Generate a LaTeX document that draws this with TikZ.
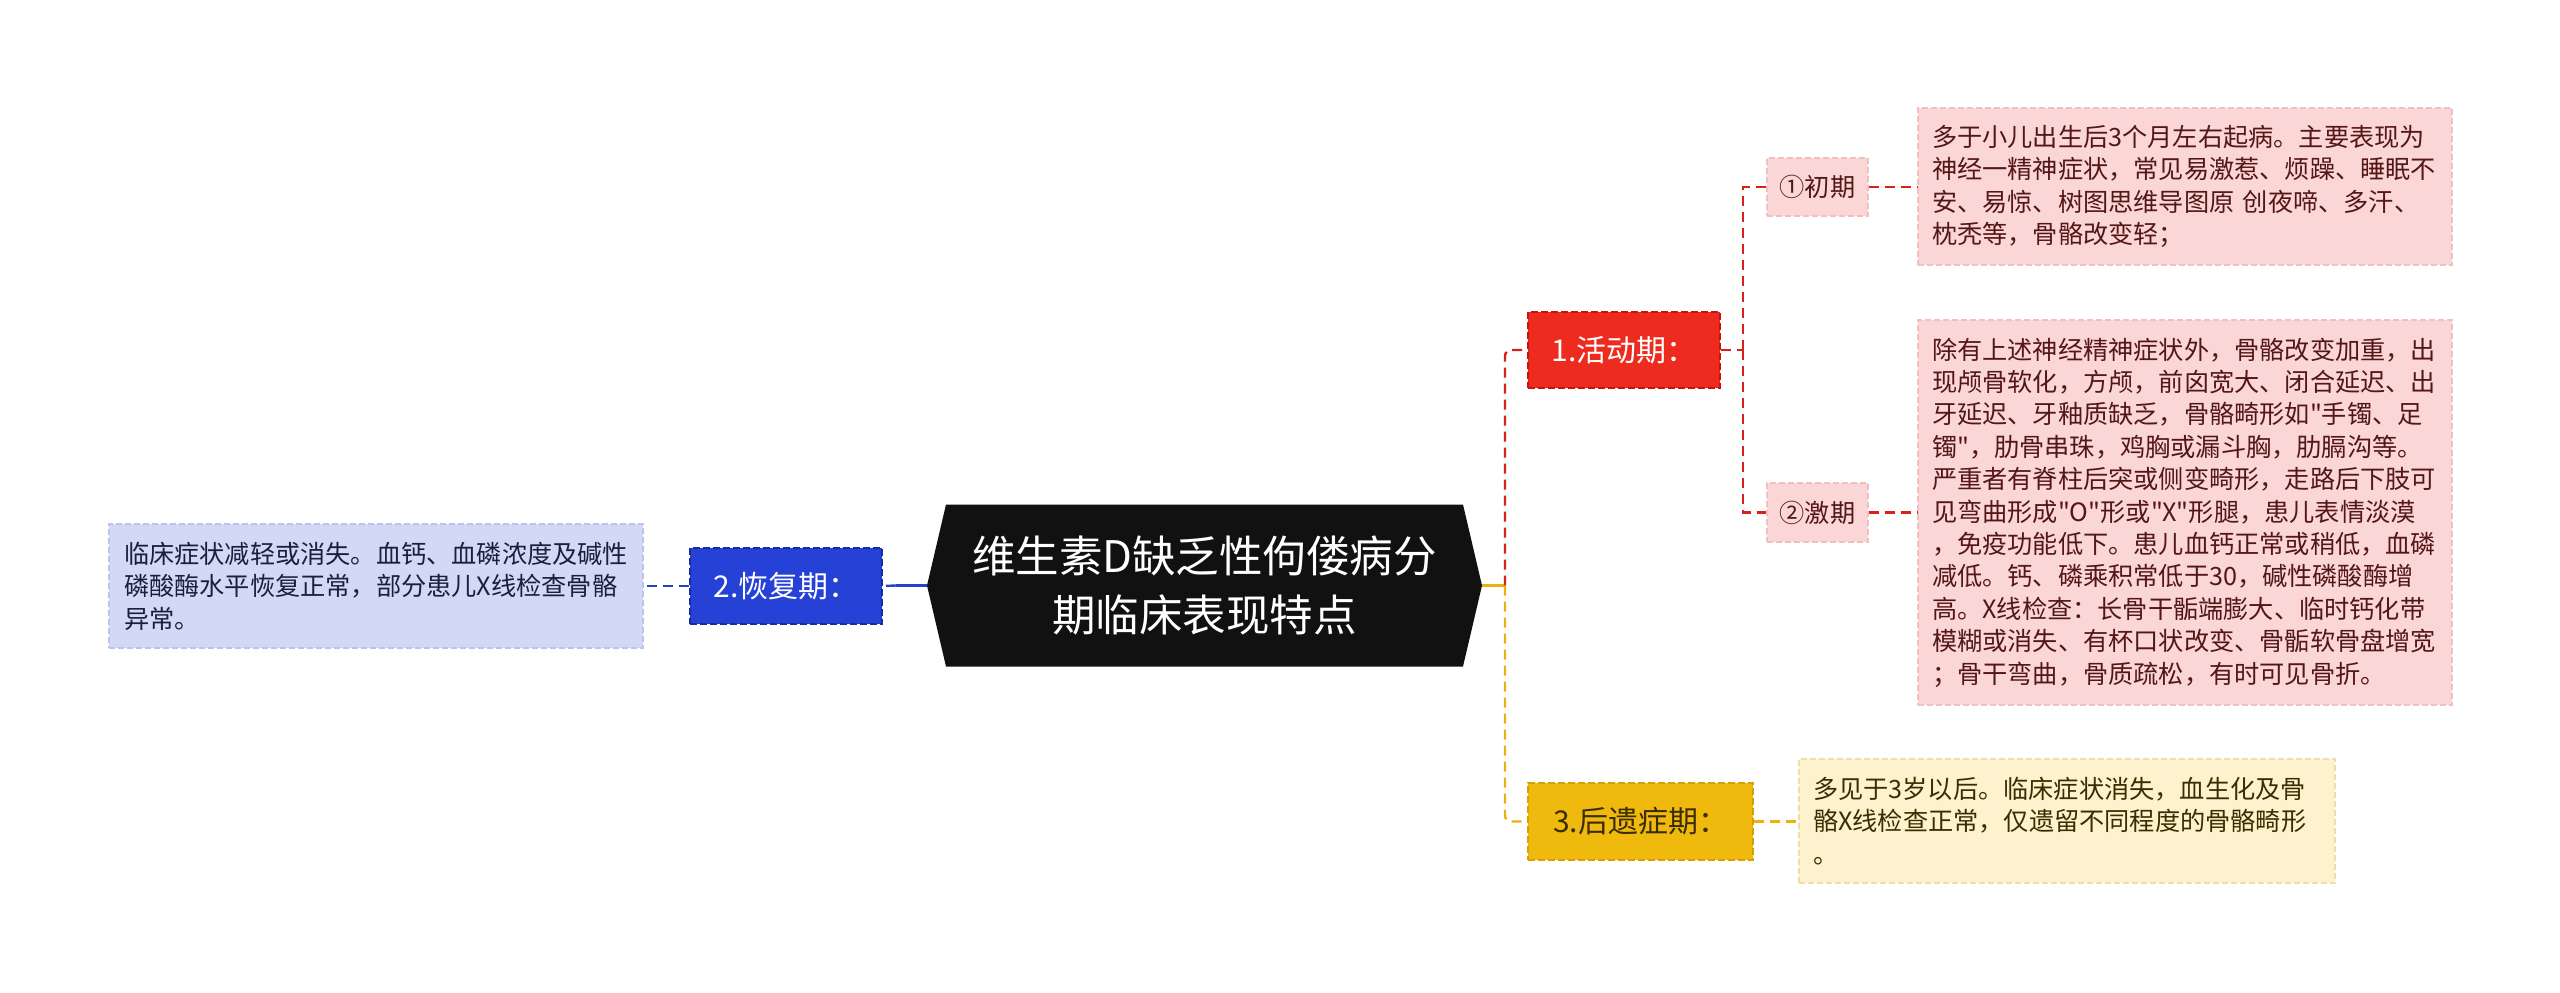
\documentclass[tikz,border=0pt]{standalone}
\usepackage{fontspec}
\newfontfamily\cjk{Noto Sans CJK SC}
\usetikzlibrary{calc}
\definecolor{rootfill}{RGB}{17,17,17}
\definecolor{redfill}{RGB}{237,43,31}
\definecolor{redborder}{RGB}{196,22,14}
\definecolor{redline}{RGB}{214,34,26}
\definecolor{bluefill}{RGB}{38,66,214}
\definecolor{blueborder}{RGB}{24,44,160}
\definecolor{blueline}{RGB}{36,64,210}
\definecolor{goldfill}{RGB}{240,185,14}
\definecolor{goldborder}{RGB}{214,160,0}
\definecolor{goldline}{RGB}{233,178,16}
\definecolor{pinkfill}{RGB}{250,214,214}
\definecolor{pinkborder}{RGB}{238,192,192}
\definecolor{pinktext}{RGB}{84,22,22}
\definecolor{creamfill}{RGB}{253,241,206}
\definecolor{creamborder}{RGB}{240,222,170}
\definecolor{creamtext}{RGB}{58,46,0}
\definecolor{lavfill}{RGB}{211,216,246}
\definecolor{lavborder}{RGB}{188,196,236}
\definecolor{lavtext}{RGB}{28,30,62}
\begin{document}
\begin{tikzpicture}[x=1pt,y=-1pt,
  bodytext/.style={font=\cjk\fontsize{25.2}{32.4}\selectfont},
  textbox/.style={bodytext, rectangle, align=left, inner xsep=14pt, inner ysep=0pt,
    line width=1.5pt, dash pattern=on 6pt off 3pt},
  tagbox/.style={rectangle, align=center, inner sep=0pt, line width=1.8pt,
    dash pattern=on 7pt off 3pt, font=\cjk\fontsize{30}{36}\selectfont},
  subbox/.style={bodytext, rectangle, align=center, inner sep=0pt, line width=1.5pt,
    dash pattern=on 6pt off 3pt, fill=pinkfill, draw=pinkborder, text=pinktext,
    minimum width=101pt},
  conn/.style={line width=2.4pt, dash pattern=on 10pt off 6pt},
  rootbox/.style={rectangle, draw=none, inner sep=0pt, align=center,
    minimum width=555pt, minimum height=162pt, text=white,
    font=\cjk\fontsize{43.5}{59}\selectfont,
    path picture={\fill[rootfill] (path picture bounding box.west)
      -- ($(path picture bounding box.north west)+(19,0)$)
      -- ($(path picture bounding box.north east)+(-19,0)$)
      -- (path picture bounding box.east)
      -- ($(path picture bounding box.south east)+(-19,0)$)
      -- ($(path picture bounding box.south west)+(19,0)$) -- cycle;}}
]
\useasboundingbox (0,0) rectangle (2560,993);
\fill[white] (0,0) rectangle (2560,993);

% root
\node[rootbox] (root) at (1204.5,585.5) {维生素D缺乏性佝偻病分\\期临床表现特点};

% main branches
\node[tagbox, fill=redfill, draw=redborder, text=white, minimum width=192pt, minimum height=76pt] (n1) at (1624,350) {1.活动期：};
\node[tagbox, fill=bluefill, draw=blueborder, text=white, minimum width=192pt, minimum height=76pt] (n2) at (786,586) {2.恢复期：};
\node[tagbox, fill=goldfill, draw=goldborder, text=creamtext, minimum width=225pt, minimum height=77pt] (n3) at (1640.5,821.5) {3.后遗症期：};

% sub branches
\node[subbox, minimum height=58pt] (s1) at (1817.5,187) {①初期};
\node[subbox, minimum height=59pt] (s2) at (1817.5,512.5) {②激期};

% content boxes
\node[textbox, fill=pinkfill, draw=pinkborder, text=pinktext, text width=506pt, minimum height=157pt] (c1) at (2185,186.5)
{多于小儿出生后3个月左右起病。主要表现为\\
神经一精神症状，常见易激惹、烦躁、睡眠不\\
安、易惊、树图思维导图原 创夜啼、多汗、\\
枕秃等，骨骼改变轻；};

\node[textbox, fill=pinkfill, draw=pinkborder, text=pinktext, text width=506pt, minimum height=385pt] (c2) at (2185,512.5)
{除有上述神经精神症状外，骨骼改变加重，出\\
现颅骨软化，方颅，前囟宽大、闭合延迟、出\\
牙延迟、牙釉质缺乏，骨骼畸形如"手镯、足\\
镯"，肋骨串珠，鸡胸或漏斗胸，肋膈沟等。\\
严重者有脊柱后突或侧变畸形，走路后下肢可\\
见弯曲形成"O"形或"X"形腿，患儿表情淡漠\\
，免疫功能低下。患儿血钙正常或稍低，血磷\\
减低。钙、磷乘积常低于30，碱性磷酸酶增\\
高。X线检查：长骨干骺端膨大、临时钙化带\\
模糊或消失、有杯口状改变、骨骺软骨盘增宽\\
；骨干弯曲，骨质疏松，有时可见骨折。};

\node[textbox, fill=creamfill, draw=creamborder, text=creamtext, text width=508pt, minimum height=124pt] (c3) at (2067,821)
{多见于3岁以后。临床症状消失，血生化及骨\\
骼X线检查正常，仅遗留不同程度的骨骼畸形\\
。};

\node[textbox, fill=lavfill, draw=lavborder, text=lavtext, inner xsep=15pt, text width=504pt, minimum height=124pt] (c4) at (376,586)
{临床症状减轻或消失。血钙、血磷浓度及碱性\\
磷酸酶水平恢复正常，部分患儿X线检查骨骼\\
异常。};

% junction coordinates
\coordinate (jR) at (1505,585.5);
\coordinate (jL) at (896,585.5);
\coordinate (jA) at (1743,350);

% connectors right side
\draw[goldline, line width=2.4pt] (root.east) -- (jR);
\draw[redline, conn, rounded corners=6pt] (jR) |- (n1.west);
\draw[goldline, conn, rounded corners=6pt] (jR) |- (n3.west);
\draw[redline, conn] (n1.east) -- (jA);
\draw[redline, conn] (jA) |- (s1.west);
\draw[redline, conn] (jA) |- (s2.west);
\draw[redline, conn] (s1.east) -- (c1.west |- s1.east);
\draw[redline, conn] (s2.east) -- (c2.west |- s2.east);
\draw[goldline, conn] (n3.east) -- (c3.west |- n3.east);

% connectors left side
\draw[blueline, line width=2.4pt] (root.west) -- (jL);
\draw[blueline, conn] (jL) -- (n2.east);
\draw[blueline, conn] (n2.west) -- (c4.east |- n2.west);
\end{tikzpicture}
\end{document}
